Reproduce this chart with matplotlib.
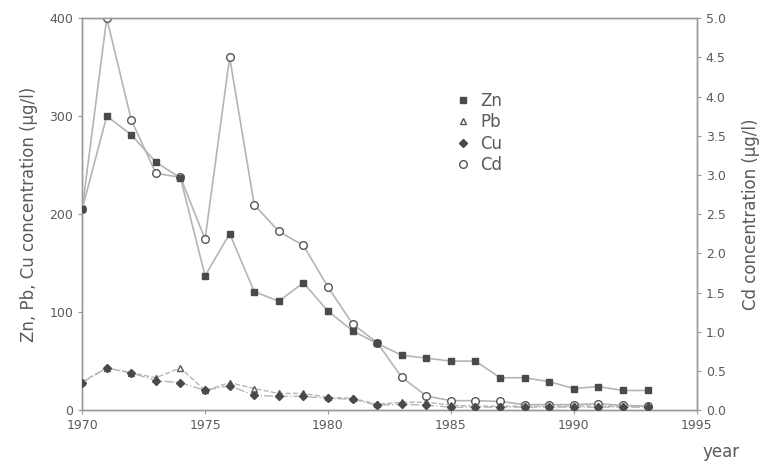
import matplotlib
matplotlib.use("Agg")
import matplotlib.pyplot as plt

years = list(range(1970, 1994))
zn = [205, 300, 281, 253, 237, 137, 180, 121, 111, 130, 101, 81, 68, 56, 53, 50, 50, 33, 33, 29, 22, 24, 20, 20]
pb = [29, 43, 38, 33, 43, 20, 28, 22, 17, 17, 13, 12, 6, 8, 8, 5, 4, 4, 4, 4, 4, 4, 4, 4]
cu = [28, 43, 38, 30, 28, 20, 25, 15, 14, 14, 12, 11, 5, 6, 5, 3, 3, 3, 3, 3, 3, 3, 3, 3]
cd = [2.56, 5.0, 3.7, 3.02, 2.97, 2.18, 4.5, 2.62, 2.28, 2.1, 1.57, 1.1, 0.86, 0.42, 0.18, 0.12, 0.12, 0.11, 0.07, 0.07, 0.07, 0.08, 0.06, 0.05]

left_ticks = [0, 100, 200, 300, 400]
right_ticks = [0.0, 0.5, 1.0, 1.5, 2.0, 2.5, 3.0, 3.5, 4.0, 4.5, 5.0]
x_ticks = [1970, 1975, 1980, 1985, 1990, 1995]

txt = "#5a5a5a"
line_c = "#b5b5b5"
mark_c = "#4a4a4a"
plt.rcParams['font.family'] = ['DejaVu Sans']

fig = plt.figure(figsize=(7.75, 4.66), dpi=100)
ax = fig.add_axes([0.106, 0.12, 0.793, 0.841])
ax2 = ax.twinx()
ax.set_zorder(ax2.get_zorder() + 1)
ax.patch.set_visible(False)

hz, = ax.plot(years, zn, color=line_c, lw=1.2, marker='s', ms=5, mfc=mark_c, mec=mark_c, zorder=3)
hpb, = ax.plot(years, pb, color=line_c, lw=1.0, ls='--', marker='^', ms=5, mfc='white', mec='#555555', mew=1.0, zorder=3)
hcu, = ax.plot(years, cu, color=line_c, lw=1.0, ls='-.', marker='D', ms=4, mfc=mark_c, mec=mark_c, zorder=3)
hcd, = ax2.plot(years, cd, color=line_c, lw=1.2, marker='o', ms=5.5, mfc='white', mec='#555555', mew=1.0, zorder=3)

ax.set_xlim(1970, 1995)
ax.set_ylim(0, 400)
ax2.set_ylim(0, 5.0)
ax.set_xticks(x_ticks)
ax.set_yticks(left_ticks)
ax2.set_yticks(right_ticks)
ax2.set_yticklabels([f"{v:.1f}" for v in right_ticks])

for a in (ax, ax2):
    for s in a.spines.values():
        s.set_color("#999999")
        s.set_linewidth(1.0)
    a.tick_params(colors=txt, labelsize=9, length=3, width=0.8)
    a.tick_params(axis='both', color="#999999")

ax.set_ylabel("Zn, Pb, Cu concentration (µg/l)", color=txt, fontsize=12, labelpad=8)
ax2.set_ylabel("Cd concentration (µg/l)", color=txt, fontsize=12, labelpad=12)
fig.text(0.93, 0.02, "year", color=txt, fontsize=12, ha='center')

leg = ax.legend([hz, hpb, hcu, hcd], ["Zn", "Pb", "Cu", "Cd"],
                loc='upper left', bbox_to_anchor=(0.585, 0.85), frameon=False,
                fontsize=12, handlelength=0.8, handletextpad=0.6, labelspacing=0.2)
for h in leg.legend_handles:
    h.set_linestyle('none')
for t in leg.get_texts():
    t.set_color(txt)

fig.savefig("out.png", dpi=100)
